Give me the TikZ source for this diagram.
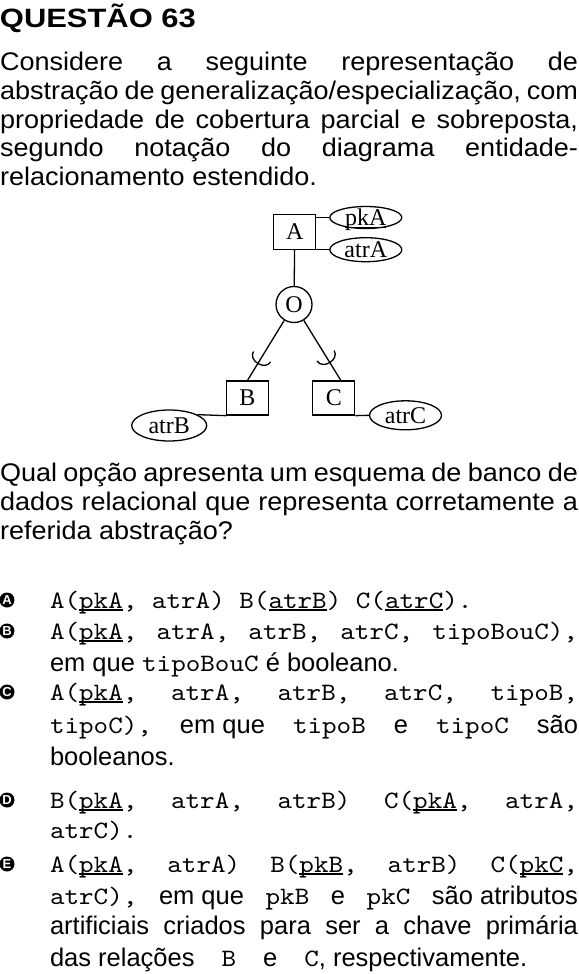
\documentclass[tikz,border=0pt]{standalone}
\usepackage{fontspec}
\usepackage{graphicx}
\setmainfont{Liberation Sans}[FakeStretch=1.06]
\newfontfamily\optfont{Liberation Sans}
\newfontfamily\codefont{lmmono10-regular.otf}[FakeStretch=1.11]
\newfontfamily\dfont{Liberation Serif}
\usetikzlibrary{shapes.geometric,calc}
\newcommand\myul[1]{\setbox0=\hbox{#1}\rlap{\rule[-2.6pt]{\wd0}{1.2pt}}\box0}
\newcommand\mcode[1]{{\codefont\fontsize{25}{28}\selectfont #1}}
\newcommand\jgap{\hspace{0pt plus 1fill}}
\begin{document}
\begin{tikzpicture}[x=1pt,y=-1pt,
  txt/.style={anchor=base west,inner sep=0pt,outer sep=0pt,font=\fontsize{25.5}{28.7}\selectfont},
  otxt/.style={anchor=base west,inner sep=0pt,outer sep=0pt,font=\optfont\fontsize{25.5}{28.7}\selectfont},
  optlbl/.style={circle,fill=black,text=white,inner sep=0pt,minimum size=15pt,font=\optfont\fontsize{13}{13}\selectfont\bfseries},
  ent/.style={draw,line width=1.3pt,rectangle,inner sep=0pt,minimum width=42pt,minimum height=35pt,font=\dfont\fontsize{24}{24}\selectfont},
  attr/.style={draw,line width=1.3pt,ellipse,inner sep=0pt},
  alabel/.style={font=\dfont\fontsize{24}{24}\selectfont,inner sep=0pt},
  conn/.style={line width=1.3pt},
]
\useasboundingbox[fill=white] (0,0) rectangle (578,974);

% title
\node[txt] (title) at (0,28) {\scalebox{1.1}[1]{\fontsize{26.5}{28}\selectfont\bfseries QUESTÃO 63}};

% statement
\node[txt] (s1) at (0,70.7) {\makebox[578pt][l]{Considere\jgap a\jgap seguinte\jgap representação\jgap de}};
\node[txt] (s2) at (0,99.4) {\makebox[578pt][l]{abstração\jgap de\jgap generalização/especialização,\jgap com}};
\node[txt] (s3) at (0,128.1) {\makebox[578pt][l]{propriedade\jgap de\jgap cobertura\jgap parcial\jgap e\jgap sobreposta,}};
\node[txt] (s4) at (0,156.8) {\makebox[578pt][l]{segundo\jgap notação\jgap do\jgap diagrama\jgap entidade-}};
\node[txt] (s5) at (0,185.5) {relacionamento estendido.};

% diagram
\node[ent] (A) at (294.8,231.8) {A};
\node[attr,minimum width=72pt,minimum height=22pt,label={[alabel,yshift=-2pt]center:\myul{pkA}}] (pkA) at (365.8,217.5) {};
\node[attr,minimum width=72pt,minimum height=24pt,label={[alabel]center:atrA}] (atrA) at (365.8,249.7) {};
\node[circle,draw,line width=1.3pt,minimum size=36pt,inner sep=0pt,font=\dfont\fontsize{24}{24}\selectfont] (O) at (294,304.5) {O};
\node[ent,minimum height=34pt] (B) at (247.5,398) {B};
\node[ent,minimum height=34pt] (C) at (333.8,398) {C};
\node[attr,minimum width=75pt,minimum height=31pt,label={[alabel]center:atrB}] (atrB) at (169.2,425.5) {};
\node[attr,minimum width=72pt,minimum height=29pt,label={[alabel]center:atrC}] (atrC) at (405.5,415.3) {};

\draw[conn] (A) -- (O);
\draw[conn] (pkA.west) -- (pkA.west -| A.east);
\draw[conn] (atrA.west) -- (atrA.west -| A.east);
\coordinate (ct) at ($(C.north)+(7,0)$);
\draw[conn] (O) -- (B.north);
\draw[conn] (O) -- (ct);
\coordinate (b1) at ($(O.center)!0.688!(B.north)$);
\coordinate (b2) at ($(O.center)!0.807!(B.north)$);
\draw[conn] ($(b1)!10pt!90:(B.north)$) .. controls ($(b2)!10pt!90:(B.north)$) and ($(b2)!10pt!-90:(B.north)$) .. ($(b1)!10pt!-90:(B.north)$);
\coordinate (c1) at ($(O.center)!0.676!(ct)$);
\coordinate (c2) at ($(O.center)!0.795!(ct)$);
\draw[conn] ($(c1)!10pt!90:(ct)$) .. controls ($(c2)!10pt!90:(ct)$) and ($(c2)!10pt!-90:(ct)$) .. ($(c1)!10pt!-90:(ct)$);
\draw[conn] (B.south west) -- (atrB.21);
\draw[conn] (C.south east) -- (atrC.west);

% question
\node[txt] (q1) at (0,481.7) {\makebox[578pt][l]{Qual\jgap opção\jgap apresenta\jgap um\jgap esquema\jgap de\jgap banco\jgap de}};
\node[txt] (q2) at (0,510.5) {\makebox[578pt][l]{dados\jgap relacional\jgap que\jgap representa\jgap corretamente\jgap a}};
\node[txt] (q3) at (0,539.2) {referida abstração?};

% options
\node[optlbl] (la) at (7,600) {A};
\node[otxt] (a1) at (50,608) {\mcode{A(\myul{pkA}, atrA) B(\myul{atrB}) C(\myul{atrC}).}};

\node[optlbl] (lb) at (7,631) {B};
\node[otxt] (b1t) at (50,639) {\makebox[528pt][l]{\mcode{A(\myul{pkA},}\jgap\mcode{atrA,}\jgap\mcode{atrB,}\jgap\mcode{atrC,}\jgap\mcode{tipoBouC),}}};
\node[otxt] (b2t) at (50,671) {em que \mcode{tipoBouC} é booleano.};

\node[optlbl] (lc) at (7,692) {C};
\node[otxt] (c1t) at (50,700) {\makebox[528pt][l]{\mcode{A(\myul{pkA},}\jgap\mcode{atrA,}\jgap\mcode{atrB,}\jgap\mcode{atrC,}\jgap\mcode{tipoB,}}};
\node[otxt] (c2t) at (50,733) {\makebox[528pt][l]{\mcode{tipoC),}\jgap em que\jgap\mcode{tipoB}\jgap e\jgap\mcode{tipoC}\jgap são}};
\node[otxt] (c3t) at (50,765) {booleanos.};

\node[optlbl] (ld) at (7,800) {D};
\node[otxt] (d1t) at (50,808) {\makebox[528pt][l]{\mcode{B(\myul{pkA},}\jgap\mcode{atrA,}\jgap\mcode{atrB)}\jgap\mcode{C(\myul{pkA},}\jgap\mcode{atrA,}}};
\node[otxt] (d2t) at (50,838) {\mcode{atrC).}};

\node[optlbl] (le) at (7,864) {E};
\node[otxt] (e1t) at (50,872) {\makebox[528pt][l]{\mcode{A(\myul{pkA},}\jgap\mcode{atrA)}\jgap\mcode{B(\myul{pkB},}\jgap\mcode{atrB)}\jgap\mcode{C(\myul{pkC},}}};
\node[otxt] (e2t) at (50,904) {\makebox[528pt][l]{\mcode{atrC),}\jgap em que\jgap\mcode{pkB}\jgap e\jgap\mcode{pkC}\jgap são atributos}};
\node[otxt] (e3t) at (50,934) {\makebox[528pt][l]{artificiais\jgap criados\jgap para\jgap ser\jgap a\jgap chave\jgap primária}};
\node[otxt] (e4t) at (50,966) {das relações\hspace{27pt}\mcode{B}\hspace{27pt}e\hspace{27pt}\mcode{C}, respectivamente.};
\end{tikzpicture}
\end{document}
